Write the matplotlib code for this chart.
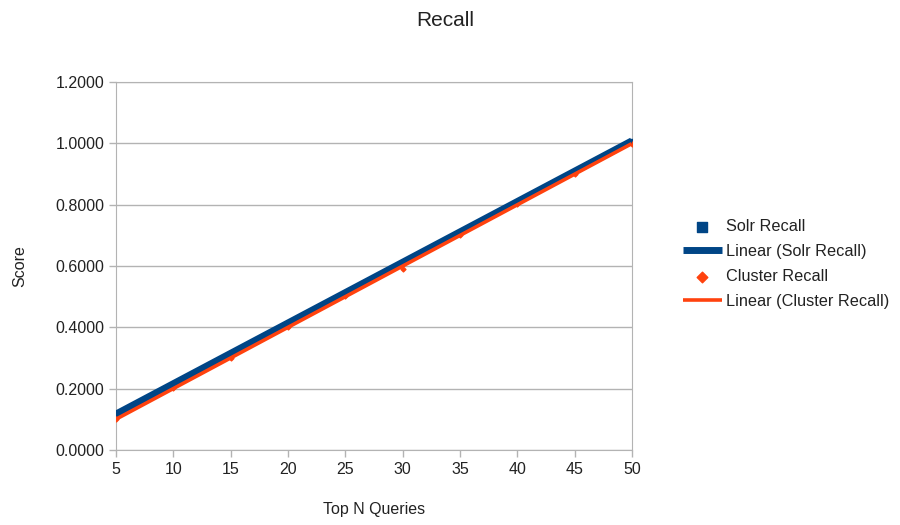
"""
Recall chart: Solr vs Cluster with linear trendlines
"""
import numpy as np
import matplotlib.pyplot as plt
from matplotlib.ticker import FormatStrFormatter

plt.rcParams["font.family"] = ["Liberation Sans", "DejaVu Sans"]

# data
top_n = [5, 10, 15, 20, 25, 30, 35, 40, 45, 50]
solr_recall = [0.117, 0.216, 0.315, 0.414, 0.513, 0.612, 0.711, 0.810, 0.909, 1.007]
cluster_recall = [0.100, 0.201, 0.301, 0.401, 0.501, 0.590, 0.701, 0.801, 0.901, 0.998]

x_ticks = [5, 10, 15, 20, 25, 30, 35, 40, 45, 50]
y_ticks = [0.0, 0.2, 0.4, 0.6, 0.8, 1.0, 1.2]

solr_color = "#004586"
cluster_color = "#ff420e"
grid_color = "#b3b3b3"
text_color = "#222222"

fig = plt.figure(figsize=(9, 5.25), dpi=100)
ax = fig.add_axes((0.129, 0.143, 0.573, 0.701))

x = np.array(top_n, dtype=float)
xs = np.array([x.min(), x.max()])

# Solr
ax.scatter(top_n, solr_recall, marker="s", s=12, color=solr_color, zorder=3,
           label="Solr Recall")
k, b = np.polyfit(x, solr_recall, 1)
ax.plot(xs, k * xs + b, color=solr_color, linewidth=5, zorder=4,
        solid_capstyle="butt", label="Linear (Solr Recall)")

# Cluster
ax.scatter(top_n, cluster_recall, marker="D", s=6, color=cluster_color, zorder=3,
           label="Cluster Recall")
k2, b2 = np.polyfit(x, cluster_recall, 1)
ax.plot(xs, k2 * xs + b2, color=cluster_color, linewidth=2.6, zorder=5,
        solid_capstyle="butt", label="Linear (Cluster Recall)")

ax.set_xlim(5, 50)
ax.set_ylim(0, 1.2)
ax.set_xticks(x_ticks)
ax.set_yticks(y_ticks)
ax.yaxis.set_major_formatter(FormatStrFormatter("%.4f"))
ax.grid(axis="y", color=grid_color, linewidth=1)
ax.set_axisbelow(True)
for sp in ax.spines.values():
    sp.set_color(grid_color)
ax.tick_params(axis="both", colors=grid_color, labelcolor=text_color,
               labelsize=11.5, length=5, width=1)

ax.set_xlabel("Top N Queries", fontsize=11.5, color=text_color, labelpad=18)
ax.set_ylabel("Score", fontsize=11.5, color=text_color, labelpad=20)
fig.text(0.495, 0.96, "Recall", ha="center", va="center", fontsize=15,
         color=text_color)

leg = ax.legend(loc="center left", bbox_to_anchor=(1.07, 0.505), frameon=False,
                fontsize=11.7, handlelength=2.4, handletextpad=0.3,
                labelspacing=0.62, scatterpoints=1, markerscale=2.2)
for t in leg.get_texts():
    t.set_color(text_color)

fig.savefig("out.png", dpi=100)
